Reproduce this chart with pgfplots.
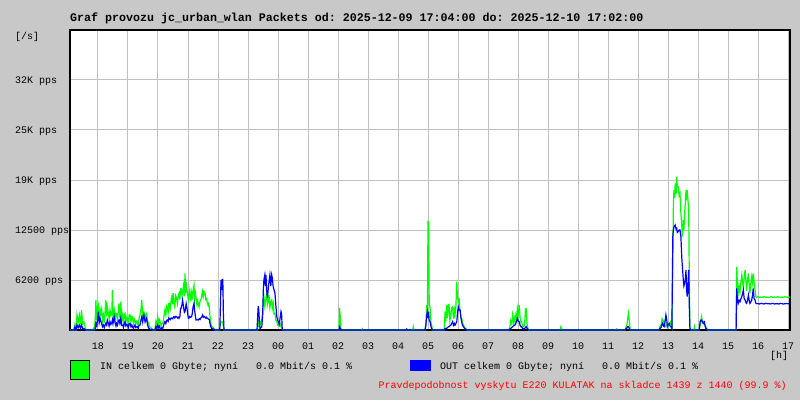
\documentclass[border=0pt]{standalone}
\usepackage{fontspec}
\setmainfont{Liberation Mono}
\usepackage{pgfplots}
\usepackage{pgfplotstable}
\pgfplotsset{compat=1.18}

\definecolor{bg}{RGB}{200,200,200}
\definecolor{gridc}{RGB}{192,192,192}
\definecolor{inc}{RGB}{0,255,0}
\definecolor{outc}{RGB}{0,0,255}

% IN packets/s, x = hour (17 = 17:00 on 2025-12-09, 41 = 17:00 next day)
\pgfplotstableread[row sep=\\]{
h pps\\
17.07 0\\ 17.20 0\\ 17.23 625\\ 17.27 0\\ 17.30 1875\\ 17.34 900\\ 17.38 1875\\ 17.42 700\\ 17.45 2500\\ 17.49 800\\
17.53 1000\\ 17.58 200\\ 17.62 0\\ 17.82 0\\ 17.85 200\\ 17.88 0\\ 17.91 1500\\ 17.93 3750\\ 17.96 1200\\ 17.99 2800\\
18.01 3125\\ 18.04 1500\\ 18.07 2500\\ 18.09 2000\\ 18.12 2600\\ 18.15 1200\\ 18.18 1875\\ 18.21 900\\ 18.24 2500\\ 18.26 3750\\
18.29 1700\\ 18.31 2900\\ 18.34 2200\\ 18.37 1400\\ 18.40 2500\\ 18.43 1800\\ 18.46 2000\\ 18.48 5000\\ 18.50 1500\\ 18.54 2500\\
18.57 1300\\ 18.60 2100\\ 18.62 2080\\ 18.65 1200\\ 18.68 2600\\ 18.70 3330\\ 18.73 1500\\ 18.76 3540\\ 18.79 1200\\ 18.82 1875\\
18.85 900\\ 18.88 2000\\ 18.90 2080\\ 18.93 1000\\ 18.96 1600\\ 18.98 1460\\ 19.01 800\\ 19.04 1900\\ 19.07 1875\\ 19.10 1000\\
19.13 1700\\ 19.15 1670\\ 19.18 800\\ 19.21 1400\\ 19.23 1250\\ 19.26 700\\ 19.29 1100\\ 19.31 1040\\ 19.34 500\\ 19.37 1500\\
19.40 1875\\ 19.43 2500\\ 19.46 3750\\ 19.49 1800\\ 19.51 2300\\ 19.53 2300\\ 19.57 1500\\ 19.60 2000\\ 19.62 2080\\ 19.65 1100\\
19.68 900\\ 19.70 625\\ 19.74 300\\ 19.79 200\\ 19.84 0\\ 19.90 0\\ 19.93 1040\\ 19.96 600\\ 19.99 1670\\ 20.02 900\\
20.05 1300\\ 20.07 1040\\ 20.10 500\\ 20.13 800\\ 20.16 830\\ 20.19 1500\\ 20.21 2000\\ 20.23 2500\\ 20.26 1900\\ 20.29 3000\\
20.31 2900\\ 20.34 2200\\ 20.36 3300\\ 20.38 3330\\ 20.41 2700\\ 20.44 3800\\ 20.46 4170\\ 20.49 3200\\ 20.51 4600\\ 20.53 3540\\
20.56 2900\\ 20.59 4300\\ 20.62 3960\\ 20.65 3300\\ 20.68 4400\\ 20.70 4580\\ 20.73 3800\\ 20.75 5200\\ 20.77 5200\\ 20.80 4300\\
20.82 4580\\ 20.85 5500\\ 20.88 4200\\ 20.90 7080\\ 20.92 4600\\ 20.94 6000\\ 20.96 5200\\ 20.99 4400\\ 21.01 3700\\ 21.03 4170\\
21.06 5000\\ 21.09 3600\\ 21.12 4580\\ 21.14 3800\\ 21.17 4900\\ 21.20 5600\\ 21.22 3900\\ 21.25 4600\\ 21.27 3960\\ 21.30 3100\\
21.32 3600\\ 21.34 3330\\ 21.37 2900\\ 21.40 3600\\ 21.42 3750\\ 21.45 4000\\ 21.47 4600\\ 21.49 4900\\ 21.51 4200\\ 21.54 4800\\
21.57 4580\\ 21.59 3800\\ 21.62 3900\\ 21.64 3540\\ 21.67 3100\\ 21.69 3300\\ 21.71 2900\\ 21.73 1800\\ 21.76 830\\ 21.79 400\\
21.82 420\\ 21.86 200\\ 21.90 0\\ 22.05 0\\ 22.08 830\\ 22.11 1000\\ 22.14 1040\\ 22.17 700\\ 22.20 0\\ 23.32 0\\
23.34 1160\\ 23.36 400\\ 23.38 1300\\ 23.42 800\\ 23.46 1250\\ 23.49 2200\\ 23.51 3500\\ 23.53 4170\\ 23.56 3000\\ 23.59 3800\\
23.62 4500\\ 23.65 3200\\ 23.68 3750\\ 23.70 4400\\ 23.73 2800\\ 23.76 3500\\ 23.79 3750\\ 23.81 2700\\ 23.84 3330\\ 23.87 2000\\
23.90 2080\\ 23.93 1200\\ 23.96 1040\\ 23.99 600\\ 24.01 625\\ 24.04 800\\ 24.07 500\\ 24.10 830\\ 24.13 200\\ 24.16 0\\
26.04 0\\ 26.05 2750\\ 26.08 1500\\ 26.10 0\\ 26.79 0\\ 26.81 150\\ 26.83 0\\ 28.49 0\\ 28.51 400\\ 28.53 0\\
28.90 0\\ 28.93 830\\ 28.96 3125\\ 28.98 2000\\ 29.00 13540\\ 29.02 13540\\ 29.04 3500\\ 29.07 2700\\ 29.10 800\\ 29.12 625\\
29.15 0\\ 29.54 0\\ 29.57 2290\\ 29.59 1000\\ 29.62 3125\\ 29.65 1500\\ 29.68 3200\\ 29.70 3200\\ 29.73 1200\\ 29.76 1875\\
29.79 2800\\ 29.82 2900\\ 29.85 1400\\ 29.88 2500\\ 29.90 1875\\ 29.93 3000\\ 29.96 6040\\ 29.98 4200\\ 30.01 3540\\ 30.04 3800\\
30.07 2290\\ 30.10 1500\\ 30.12 1460\\ 30.15 900\\ 30.18 625\\ 30.22 300\\ 30.26 200\\ 30.30 0\\ 31.70 0\\ 31.73 420\\
31.76 1200\\ 31.79 800\\ 31.82 1875\\ 31.85 900\\ 31.88 1500\\ 31.90 1040\\ 31.93 1900\\ 31.96 1200\\ 31.98 2700\\ 32.01 2000\\
32.04 3125\\ 32.07 1500\\ 32.10 1000\\ 32.12 1040\\ 32.15 500\\ 32.18 400\\ 32.20 420\\ 32.23 1200\\ 32.25 2700\\ 32.27 2700\\
32.30 800\\ 32.33 200\\ 32.36 0\\ 33.40 0\\ 33.43 400\\ 33.46 0\\ 35.26 0\\ 35.29 150\\ 35.32 0\\ 35.58 0\\
35.60 400\\ 35.62 420\\ 35.65 1200\\ 35.68 2080\\ 35.70 1500\\ 35.71 1250\\ 35.74 0\\ 36.70 0\\ 36.73 420\\ 36.77 600\\
36.80 1400\\ 36.82 1250\\ 36.85 700\\ 36.87 1040\\ 36.90 500\\ 36.93 420\\ 36.96 700\\ 36.98 830\\ 37.01 500\\ 37.04 625\\
37.07 800\\ 37.09 1040\\ 37.12 600\\ 37.13 420\\ 37.16 9170\\ 37.18 15830\\ 37.20 17500\\ 37.22 16500\\ 37.24 18330\\ 37.27 17000\\
37.29 19170\\ 37.31 18000\\ 37.34 17900\\ 37.37 16800\\ 37.40 17080\\ 37.43 14580\\ 37.46 13000\\ 37.48 11670\\ 37.51 13750\\ 37.53 12500\\
37.56 15000\\ 37.58 16000\\ 37.60 17500\\ 37.62 16800\\ 37.64 17500\\ 37.67 16000\\ 37.69 15000\\ 37.71 6250\\ 37.73 420\\ 37.75 0\\
37.86 0\\ 37.88 420\\ 37.90 0\\ 38.04 0\\ 38.07 625\\ 38.10 1200\\ 38.12 1670\\ 38.15 900\\ 38.18 1040\\ 38.21 700\\
38.23 625\\ 38.26 400\\ 38.29 200\\ 38.31 0\\ 39.27 0\\ 39.29 7900\\ 39.31 6000\\ 39.34 4580\\ 39.37 5500\\ 39.40 4800\\
39.43 6000\\ 39.46 6875\\ 39.49 5800\\ 39.51 5400\\ 39.54 6500\\ 39.57 7500\\ 39.60 6000\\ 39.62 4900\\ 39.65 6200\\ 39.68 7080\\
39.71 5500\\ 39.73 4580\\ 39.76 5800\\ 39.79 6670\\ 39.82 5900\\ 39.84 7080\\ 39.87 6000\\ 39.90 5000\\ 39.93 4170\\ 39.96 4080\\
40.00 4170\\ 40.05 4050\\ 40.10 4120\\ 40.15 4080\\ 40.20 4170\\ 40.25 4080\\ 40.30 4120\\ 40.35 4040\\ 40.40 4100\\ 40.45 4170\\
40.50 4080\\ 40.55 4120\\ 40.60 4080\\ 40.65 4160\\ 40.70 4100\\ 40.75 4060\\ 40.80 4120\\ 40.85 4080\\ 40.90 4150\\ 40.95 4100\\
41.00 4080\\ 41.07 4120\\
}\indata

% OUT packets/s
\pgfplotstableread[row sep=\\]{
h pps\\
17.07 0\\ 17.20 0\\ 17.23 400\\ 17.27 0\\ 17.30 625\\ 17.34 300\\ 17.38 625\\ 17.42 200\\ 17.45 625\\ 17.49 200\\
17.53 200\\ 17.58 0\\ 17.90 0\\ 17.93 830\\ 17.96 500\\ 17.99 1500\\ 18.01 2300\\ 18.04 900\\ 18.07 1450\\ 18.09 1200\\
18.12 800\\ 18.15 400\\ 18.18 625\\ 18.21 300\\ 18.24 700\\ 18.26 830\\ 18.29 600\\ 18.31 1250\\ 18.34 900\\ 18.37 500\\
18.40 1040\\ 18.43 700\\ 18.46 900\\ 18.48 1250\\ 18.50 800\\ 18.54 1670\\ 18.57 900\\ 18.60 500\\ 18.62 830\\ 18.65 600\\
18.68 1100\\ 18.70 1250\\ 18.73 800\\ 18.76 1460\\ 18.79 600\\ 18.82 625\\ 18.85 300\\ 18.88 900\\ 18.90 1040\\ 18.93 500\\
18.96 700\\ 18.98 625\\ 19.01 300\\ 19.04 800\\ 19.07 830\\ 19.10 400\\ 19.13 600\\ 19.15 400\\ 19.18 200\\ 19.21 500\\
19.23 625\\ 19.26 300\\ 19.29 400\\ 19.31 400\\ 19.34 200\\ 19.37 600\\ 19.40 625\\ 19.43 1200\\ 19.46 1670\\ 19.49 1000\\
19.51 1500\\ 19.53 1875\\ 19.57 1000\\ 19.60 1300\\ 19.62 1460\\ 19.65 700\\ 19.68 300\\ 19.70 200\\ 19.74 80\\ 19.79 80\\
19.84 0\\ 19.90 0\\ 19.93 420\\ 19.96 200\\ 19.99 625\\ 20.02 300\\ 20.05 500\\ 20.07 200\\ 20.10 100\\ 20.13 300\\
20.16 200\\ 20.19 600\\ 20.21 900\\ 20.23 1040\\ 20.26 800\\ 20.29 1200\\ 20.31 1250\\ 20.34 1100\\ 20.36 1500\\ 20.38 1460\\
20.41 1300\\ 20.44 1500\\ 20.46 1460\\ 20.49 1400\\ 20.51 1600\\ 20.53 1670\\ 20.56 1500\\ 20.59 1700\\ 20.62 1670\\ 20.65 1500\\
20.68 1600\\ 20.70 1460\\ 20.73 1700\\ 20.75 2700\\ 20.77 2700\\ 20.80 3200\\ 20.82 3750\\ 20.85 2900\\ 20.88 2200\\ 20.90 2300\\
20.92 2800\\ 20.94 3300\\ 20.96 2900\\ 20.99 2000\\ 21.01 1500\\ 21.03 1460\\ 21.06 1700\\ 21.09 1600\\ 21.12 1670\\ 21.14 2000\\
21.17 2900\\ 21.20 3330\\ 21.22 2500\\ 21.25 1600\\ 21.27 1250\\ 21.30 1300\\ 21.32 1250\\ 21.34 1250\\ 21.37 1400\\ 21.40 1300\\
21.42 1460\\ 21.45 1600\\ 21.47 1700\\ 21.49 1875\\ 21.51 1600\\ 21.54 1700\\ 21.57 1580\\ 21.59 1500\\ 21.62 1600\\ 21.64 1460\\
21.67 1400\\ 21.69 1350\\ 21.71 1330\\ 21.73 900\\ 21.76 400\\ 21.79 200\\ 21.82 200\\ 21.86 80\\ 21.90 0\\ 22.06 0\\
22.08 3000\\ 22.10 6250\\ 22.12 5000\\ 22.14 6330\\ 22.16 6330\\ 22.18 2000\\ 22.20 0\\ 23.30 0\\ 23.32 1500\\ 23.34 3000\\
23.36 2500\\ 23.38 1000\\ 23.40 200\\ 23.46 400\\ 23.49 2000\\ 23.51 5000\\ 23.53 6250\\ 23.56 6875\\ 23.58 5500\\ 23.60 6875\\
23.62 5000\\ 23.65 4000\\ 23.68 5400\\ 23.70 6000\\ 23.73 6875\\ 23.76 5500\\ 23.79 6875\\ 23.81 6500\\ 23.84 5400\\ 23.87 5000\\
23.90 4580\\ 23.93 3000\\ 23.96 1670\\ 23.99 1200\\ 24.01 1040\\ 24.04 700\\ 24.07 1500\\ 24.10 2290\\ 24.12 2000\\ 24.14 200\\
24.16 0\\ 26.04 0\\ 26.05 400\\ 26.08 200\\ 26.10 0\\ 28.27 0\\ 28.29 120\\ 28.31 0\\ 28.90 0\\ 28.93 600\\
28.96 1875\\ 28.98 2290\\ 29.00 1500\\ 29.02 2290\\ 29.04 1200\\ 29.07 1040\\ 29.10 400\\ 29.12 200\\ 29.15 0\\ 29.54 0\\
29.57 200\\ 29.62 200\\ 29.68 400\\ 29.76 600\\ 29.82 1040\\ 29.85 600\\ 29.88 800\\ 29.90 600\\ 29.93 800\\ 29.96 1040\\
29.98 2000\\ 30.01 2900\\ 30.04 2500\\ 30.07 2500\\ 30.10 1500\\ 30.12 1040\\ 30.15 600\\ 30.18 420\\ 30.22 200\\ 30.26 80\\
30.30 0\\ 31.70 0\\ 31.73 120\\ 31.79 300\\ 31.82 420\\ 31.88 600\\ 31.90 625\\ 31.93 900\\ 31.96 1200\\ 31.98 1460\\
32.01 1100\\ 32.04 1040\\ 32.07 600\\ 32.10 400\\ 32.12 420\\ 32.15 200\\ 32.20 120\\ 32.25 300\\ 32.27 420\\ 32.30 200\\
32.33 80\\ 32.36 0\\ 35.58 0\\ 35.60 200\\ 35.62 200\\ 35.65 400\\ 35.68 420\\ 35.71 200\\ 35.74 0\\ 36.70 0\\
36.73 200\\ 36.77 300\\ 36.80 700\\ 36.82 830\\ 36.85 500\\ 36.87 420\\ 36.90 1000\\ 36.93 1875\\ 36.96 1200\\ 36.98 420\\
37.01 700\\ 37.04 830\\ 37.07 500\\ 37.09 420\\ 37.12 300\\ 37.13 200\\ 37.16 11670\\ 37.18 12500\\ 37.20 12900\\ 37.22 13000\\
37.24 13125\\ 37.27 12600\\ 37.29 12700\\ 37.31 12200\\ 37.34 12300\\ 37.37 12500\\ 37.40 12500\\ 37.43 11670\\ 37.46 9000\\ 37.48 7900\\
37.51 6250\\ 37.53 5500\\ 37.56 5900\\ 37.58 6500\\ 37.60 7500\\ 37.62 5000\\ 37.64 4170\\ 37.67 6000\\ 37.69 7500\\ 37.71 2900\\
37.73 200\\ 37.75 0\\ 38.04 0\\ 38.07 1040\\ 38.10 1250\\ 38.12 1250\\ 38.15 1000\\ 38.18 830\\ 38.21 1000\\ 38.23 625\\
38.26 200\\ 38.29 100\\ 38.31 0\\ 39.27 0\\ 39.29 5200\\ 39.31 4000\\ 39.34 3330\\ 39.37 3700\\ 39.40 3540\\ 39.43 3900\\
39.46 4170\\ 39.49 4600\\ 39.51 5000\\ 39.54 3900\\ 39.57 3750\\ 39.60 3400\\ 39.62 3330\\ 39.65 3700\\ 39.68 4375\\ 39.71 3600\\
39.73 3330\\ 39.76 3500\\ 39.79 3750\\ 39.82 4400\\ 39.84 5200\\ 39.87 3900\\ 39.90 3750\\ 39.93 3330\\ 39.96 3290\\ 40.00 3300\\
40.05 3250\\ 40.10 3330\\ 40.15 3290\\ 40.20 3250\\ 40.25 3330\\ 40.30 3290\\ 40.35 3300\\ 40.40 3250\\ 40.45 3290\\ 40.50 3330\\
40.55 3250\\ 40.60 3290\\ 40.65 3290\\ 40.70 3250\\ 40.75 3330\\ 40.80 3290\\ 40.85 3250\\ 40.90 3290\\ 40.95 3300\\ 41.00 3290\\
41.07 3290\\
}\outdata

\begin{document}
\frenchspacing
\begin{tikzpicture}[x=1pt,y=1pt]
\path[use as bounding box] (0,0) rectangle (800,400);
\fill[bg] (0,0) rectangle (800,400);
\begin{axis}[
    at={(70pt,70pt)}, anchor=south west,
    width=720pt, height=300pt, scale only axis,
    xmin=17.0667, xmax=41.0667, ymin=0, ymax=37500,
    axis background/.style={fill=white},
    axis line style={black, line width=1.2pt},
    xtick={18,...,41},
    xticklabels={18,19,20,21,22,23,00,01,02,03,04,05,06,07,08,09,10,11,12,13,14,15,16,17},
    ytick={6250,12500,18750,25000,31250},
    yticklabels={6200 pps,12500 pps,19K pps,25K pps,32K pps},
    scaled y ticks=false,
    major tick length=0pt,
    grid=major,
    major grid style={draw=gridc, line width=1pt},
    tick label style={font=\fontsize{10}{12}\selectfont, inner sep=0pt},
    xticklabel style={anchor=north, yshift=-13pt},
    yticklabel style={anchor=west, xshift=-55pt, yshift=-1pt},
]
\addplot[inc, line width=1.2pt, sharp plot] table[x=h, y=pps] {\indata};
\addplot[outc, line width=1.2pt, sharp plot] table[x=h, y=pps] {\outdata};
\end{axis}

\node[anchor=west, inner sep=0pt, font=\bfseries\fontsize{11.65}{13}\selectfont] at (70,382)
  {Graf provozu jc\_urban\_wlan Packets od: 2025-12-09 17:04:00 do: 2025-12-10 17:02:00};
\node[anchor=west, inner sep=0pt, font=\fontsize{10}{12}\selectfont] at (15,363) {[/s]};
\node[anchor=west, inner sep=0pt, font=\fontsize{10}{12}\selectfont] at (770,44) {[h]};

\filldraw[fill=inc, draw=black, line width=1pt] (70.5,20.5) rectangle (89.5,39.5);
\fill[outc] (410,29) rectangle (431,40);
\node[anchor=west, inner sep=0pt, font=\fontsize{10}{12}\selectfont] at (100,33)
  {IN celkem 0 Gbyte; nyní\ \ \ 0.0 Mbit/s 0.1 \%};
\node[anchor=west, inner sep=0pt, font=\fontsize{10}{12}\selectfont] at (440,33)
  {OUT celkem 0 Gbyte; nyní\ \ \ 0.0 Mbit/s 0.1 \%};
\node[anchor=east, inner sep=0pt, text=red, font=\fontsize{10}{12}\selectfont] at (787,14)
  {Pravdepodobnost vyskytu E220 KULATAK na skladce 1439 z 1440 (99.9 \%)};
\end{tikzpicture}
\end{document}
